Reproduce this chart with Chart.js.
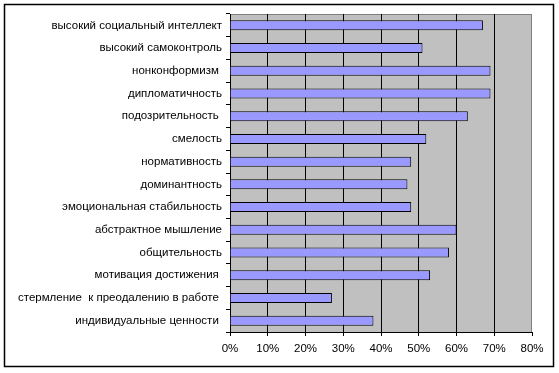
<!DOCTYPE html>
<html><head><meta charset="utf-8">
<script src="https://cdn.jsdelivr.net/npm/chart.js@4"></script>
<style>html,body{margin:0;padding:0;background:#fff;}#wrap{width:559px;height:373px;position:relative;}</style>
</head><body><div id="wrap"><canvas id="c" width="559" height="373"></canvas></div>
<script>
const categories = [
  'высокий социальный интеллект',
  'высокий самоконтроль',
  'нонконформизм ',
  'дипломатичность',
  'подозрительность ',
  'смелость',
  'нормативность',
  'доминантность',
  'эмоциональная стабильность',
  'абстрактное мышление',
  'общительность',
  'мотивация достижения ',
  'стермление  к преодалению в работе ',
  'индивидуальные ценности '
];
const values = [67, 51, 69, 69, 63, 52, 48, 47, 48, 60, 58, 53, 27, 38];
const xTicks = [0, 10, 20, 30, 40, 50, 60, 70, 80];

const YFONT = {family: 'Liberation Sans, Arial, sans-serif', size: 11.5};
const XFONT = {family: 'Liberation Sans, Arial, sans-serif', size: 11.5};

const framePlugin = {
  id: 'frame',
  beforeDraw(chart) {
    const ctx = chart.ctx, a = chart.chartArea;
    ctx.save();
    ctx.fillStyle = '#fff';
    ctx.fillRect(0, 0, chart.width, chart.height);
    ctx.fillStyle = '#C0C0C0';
    ctx.fillRect(a.left, a.top, a.right - a.left, a.bottom - a.top);
    ctx.strokeStyle = '#808080';
    ctx.lineWidth = 1;
    ctx.strokeRect(Math.round(a.left) + 0.5, Math.round(a.top) + 0.5, Math.round(a.right - a.left) - 1, Math.round(a.bottom - a.top));
    ctx.restore();
  },
  afterDraw(chart) {
    const ctx = chart.ctx;
    ctx.save();
    ctx.strokeStyle = '#000';
    ctx.lineWidth = 1.5;
    ctx.strokeRect(4.5, 4.5, 549, 362);
    ctx.restore();
  }
};

new Chart(document.getElementById('c'), {
  type: 'bar',
  data: {
    labels: categories,
    datasets: [{
      data: values,
      backgroundColor: '#9999FF',
      borderColor: '#000',
      borderWidth: 1,
      categoryPercentage: 1,
      barPercentage: 0.44
    }]
  },
  options: {
    indexAxis: 'y',
    responsive: false,
    animation: false,
    devicePixelRatio: 1,
    layout: {padding: {left: 0, right: 27, top: 14, bottom: 0}},
    plugins: {legend: {display: false}, tooltip: {enabled: false}},
    scales: {
      x: {
        min: 0, max: 80,
        afterBuildTicks(s) { s.ticks = xTicks.map(v => ({value: v})); },
        afterFit(s) { s.height = 41; },
        ticks: {color: '#000', font: XFONT, padding: 6, maxRotation: 0, callback: v => v + '%'},
        grid: {
          color: ctx => (ctx.tick && ctx.tick.value > 0 && ctx.tick.value < 80) ? '#000' : 'rgba(0,0,0,0)',
          lineWidth: 1,
          tickLength: 4,
          tickColor: '#000',
          drawTicks: true
        },
        border: {display: true, color: '#000', width: 1}
      },
      y: {
        afterFit(s) { s.width = 230; },
        ticks: {color: '#000', font: YFONT, padding: 4, autoSkip: false},
        grid: {drawOnChartArea: false, tickLength: 4, color: '#000', offset: true},
        border: {display: true, color: '#000', width: 1}
      }
    }
  },
  plugins: [framePlugin]
});
</script></body></html>
